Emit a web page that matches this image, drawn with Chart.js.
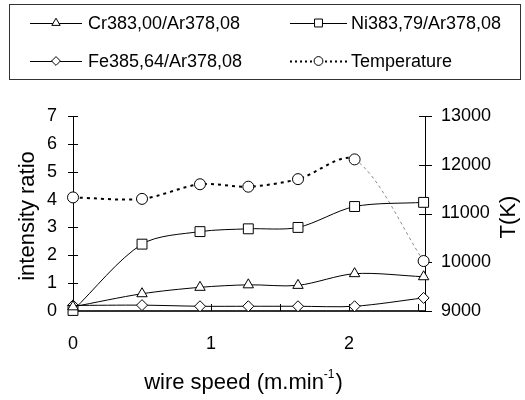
<!DOCTYPE html>
<html>
<head>
<meta charset="utf-8">
<script src="https://cdn.jsdelivr.net/npm/chart.js@4.4.1/dist/chart.umd.min.js"></script>
<style>
  html, body { margin: 0; padding: 0; background: #fff; }
  canvas { display: block; }
</style>
</head>
<body>
<canvas id="c" width="525" height="400"></canvas>
<script>
// ---- data ----
const wireSpeed = [0, 0.5, 0.92, 1.27, 1.63, 2.04, 2.54];
const crRatio = [0.15, 0.62, 0.85, 0.94, 0.92, 1.34, 1.23];
const niRatio = [0.02, 2.4, 2.85, 2.95, 3.0, 3.75, 3.9];
const feRatio = [0.2, 0.21, 0.17, 0.17, 0.17, 0.17, 0.47];
const temperature = [11330, 11300, 11600, 11550, 11705, 12110, 10025];
const seriesLabels = ['Cr383,00/Ar378,08', 'Ni383,79/Ar378,08', 'Fe385,64/Ar378,08', 'Temperature'];
const xTickLabels = [0, 1, 2];
const xMinorTicks = [0.5, 1, 1.5, 2, 2.5];
const yTickLabels = [0, 1, 2, 3, 4, 5, 6, 7];
const tTickLabels = [9000, 10000, 11000, 12000, 13000];

const FONT = "'Liberation Sans', Arial, sans-serif";
const toXY = (ys) => ys.map((y, i) => ({ x: wireSpeed[i], y }));
const plain = v => String(v);

const common = {
  borderColor: '#000',
  borderWidth: 1,
  pointBackgroundColor: '#fff',
  pointBorderColor: '#000',
  pointBorderWidth: 1,
  tension: 0.3,
  fill: false,
  clip: false
};

const datasets = [
  Object.assign({}, common, { label: seriesLabels[0], data: toXY(crRatio), yAxisID: 'y', pointStyle: 'triangle', pointRadius: 6 }),
  Object.assign({}, common, { label: seriesLabels[1], data: toXY(niRatio), yAxisID: 'y', pointStyle: 'rect', pointRadius: 7 }),
  Object.assign({}, common, { label: seriesLabels[2], data: toXY(feRatio), yAxisID: 'y', pointStyle: 'rectRot', pointRadius: 5.5 }),
  Object.assign({}, common, {
    label: seriesLabels[3], data: toXY(temperature), yAxisID: 'y1', pointStyle: 'circle', pointRadius: 5.5,
    borderWidth: 2, borderDash: [3, 4],
    segment: {
      borderColor: c => c.p1DataIndex === 6 ? '#8a8a8a' : '#000',
      borderWidth: c => c.p1DataIndex === 6 ? 1 : 2,
      borderDash: c => c.p1DataIndex === 6 ? [3, 3] : [3, 4]
    }
  })
];

function drawMarker(ctx, style, r, x, y) {
  ctx.save();
  ctx.fillStyle = '#fff';
  ctx.strokeStyle = '#000';
  ctx.lineWidth = 1;
  if (Chart.helpers && Chart.helpers.drawPoint) {
    Chart.helpers.drawPoint(ctx, { pointStyle: style, radius: r, rotation: 0, borderWidth: 1 }, x, y);
  } else {
    ctx.beginPath(); ctx.arc(x, y, r, 0, Math.PI * 2); ctx.fill(); ctx.stroke();
  }
  ctx.restore();
}

const decorPlugin = {
  id: 'decor',
  beforeDatasetsDraw(chart) {
    const ctx = chart.ctx;
    const { x, y, y1 } = chart.scales;
    ctx.save();
    ctx.strokeStyle = '#000';
    ctx.lineWidth = 1;
    ctx.beginPath();
    yTickLabels.forEach(v => {
      const py = Math.round(y.getPixelForValue(v)) + 0.5;
      ctx.moveTo(x.left - 5, py); ctx.lineTo(x.left + 5, py);
    });
    tTickLabels.forEach(v => {
      const py = Math.round(y1.getPixelForValue(v)) + 0.5;
      ctx.moveTo(x.right - 6, py); ctx.lineTo(x.right + 7, py);
    });
    xMinorTicks.forEach(v => {
      const px = Math.round(x.getPixelForValue(v)) + 0.5;
      ctx.moveTo(px, y.bottom); ctx.lineTo(px, y.bottom - 7);
    });
    ctx.stroke();
    ctx.restore();
  },
  afterDraw(chart) {
    const ctx = chart.ctx;
    ctx.save();
    // legend box
    ctx.strokeStyle = '#333';
    ctx.lineWidth = 1;
    ctx.strokeRect(9.5, 4.5, 511, 75);
    ctx.font = '18px ' + FONT;
    ctx.fillStyle = '#000';
    ctx.textBaseline = 'middle';
    ctx.textAlign = 'left';
    const items = [
      { ds: 0, lx: 30, rx: 82, y: 23, tx: 88 },
      { ds: 1, lx: 290, rx: 347, y: 23, tx: 351 },
      { ds: 2, lx: 30, rx: 82, y: 61, tx: 88 },
      { ds: 3, lx: 290, rx: 347, y: 61, tx: 351 }
    ];
    items.forEach(it => {
      const d = chart.data.datasets[it.ds];
      ctx.save();
      ctx.strokeStyle = '#000';
      if (it.ds === 3) { ctx.lineWidth = 2; ctx.setLineDash([2, 3]); } else { ctx.lineWidth = 1; }
      ctx.beginPath();
      ctx.moveTo(it.lx, it.y + 0.5); ctx.lineTo(it.rx, it.y + 0.5);
      ctx.stroke();
      ctx.restore();
      const mx = (it.lx + it.rx) / 2;
      drawMarker(ctx, d.pointStyle, d.pointRadius * 0.8, mx, it.y);
      ctx.fillText(d.label, it.tx, it.y + 1);
    });
    // axis titles
    ctx.font = '22px ' + FONT;
    ctx.textAlign = 'center';
    ctx.textBaseline = 'middle';
    ctx.save();
    ctx.translate(28, 216); ctx.rotate(-Math.PI / 2);
    ctx.fillText('intensity ratio', 0, 0);
    ctx.restore();
    ctx.save();
    ctx.translate(509, 217); ctx.rotate(-Math.PI / 2);
    ctx.fillText('T(K)', 0, 0);
    ctx.restore();
    // x title with superscript
    const main = 'wire speed (m.min', sup = '-1', close = ')';
    ctx.textBaseline = 'alphabetic';
    ctx.textAlign = 'left';
    ctx.font = '22px ' + FONT;
    const w1 = ctx.measureText(main).width, w3 = ctx.measureText(close).width;
    ctx.font = '12px ' + FONT;
    const w2 = ctx.measureText(sup).width;
    let sx = 243 - (w1 + w2 + w3) / 2;
    ctx.font = '22px ' + FONT;
    ctx.fillText(main, sx, 389);
    ctx.font = '12px ' + FONT;
    ctx.fillText(sup, sx + w1, 378);
    ctx.font = '22px ' + FONT;
    ctx.fillText(close, sx + w1 + w2 + 1, 389);
    ctx.restore();
  }
};

new Chart(document.getElementById('c'), {
  type: 'line',
  data: { datasets },
  options: {
    responsive: false,
    devicePixelRatio: 1,
    animation: false,
    layout: { padding: { top: 116, left: 0, right: 0, bottom: 0 } },
    plugins: { legend: { display: false }, tooltip: { enabled: false } },
    scales: {
      x: {
        type: 'linear', position: 'bottom', min: 0, max: 2.55,
        afterBuildTicks: s => { s.ticks = xTickLabels.map(v => ({ value: v })); },
        afterFit: s => { s.height = 89; },
        grid: { display: false, drawTicks: false },
        border: { display: true, color: '#333', width: 2 },
        ticks: { color: '#000', font: { family: FONT, size: 18 }, padding: 22, maxRotation: 0, callback: plain }
      },
      y: {
        type: 'linear', position: 'left', min: 0, max: 7,
        afterBuildTicks: s => { s.ticks = yTickLabels.map(v => ({ value: v })); },
        afterFit: s => { s.width = 73; },
        grid: { display: false, drawTicks: false },
        border: { display: true, color: '#000', width: 1 },
        ticks: { color: '#000', font: { family: FONT, size: 18 }, padding: 16, callback: plain }
      },
      y1: {
        type: 'linear', position: 'right', min: 9000, max: 13000,
        afterBuildTicks: s => { s.ticks = tTickLabels.map(v => ({ value: v })); },
        afterFit: s => { s.width = 100; },
        grid: { display: false, drawTicks: false },
        border: { display: true, color: '#000', width: 1 },
        ticks: { color: '#000', font: { family: FONT, size: 18 }, padding: 16, callback: plain }
      }
    }
  },
  plugins: [decorPlugin]
});
</script>
</body>
</html>
